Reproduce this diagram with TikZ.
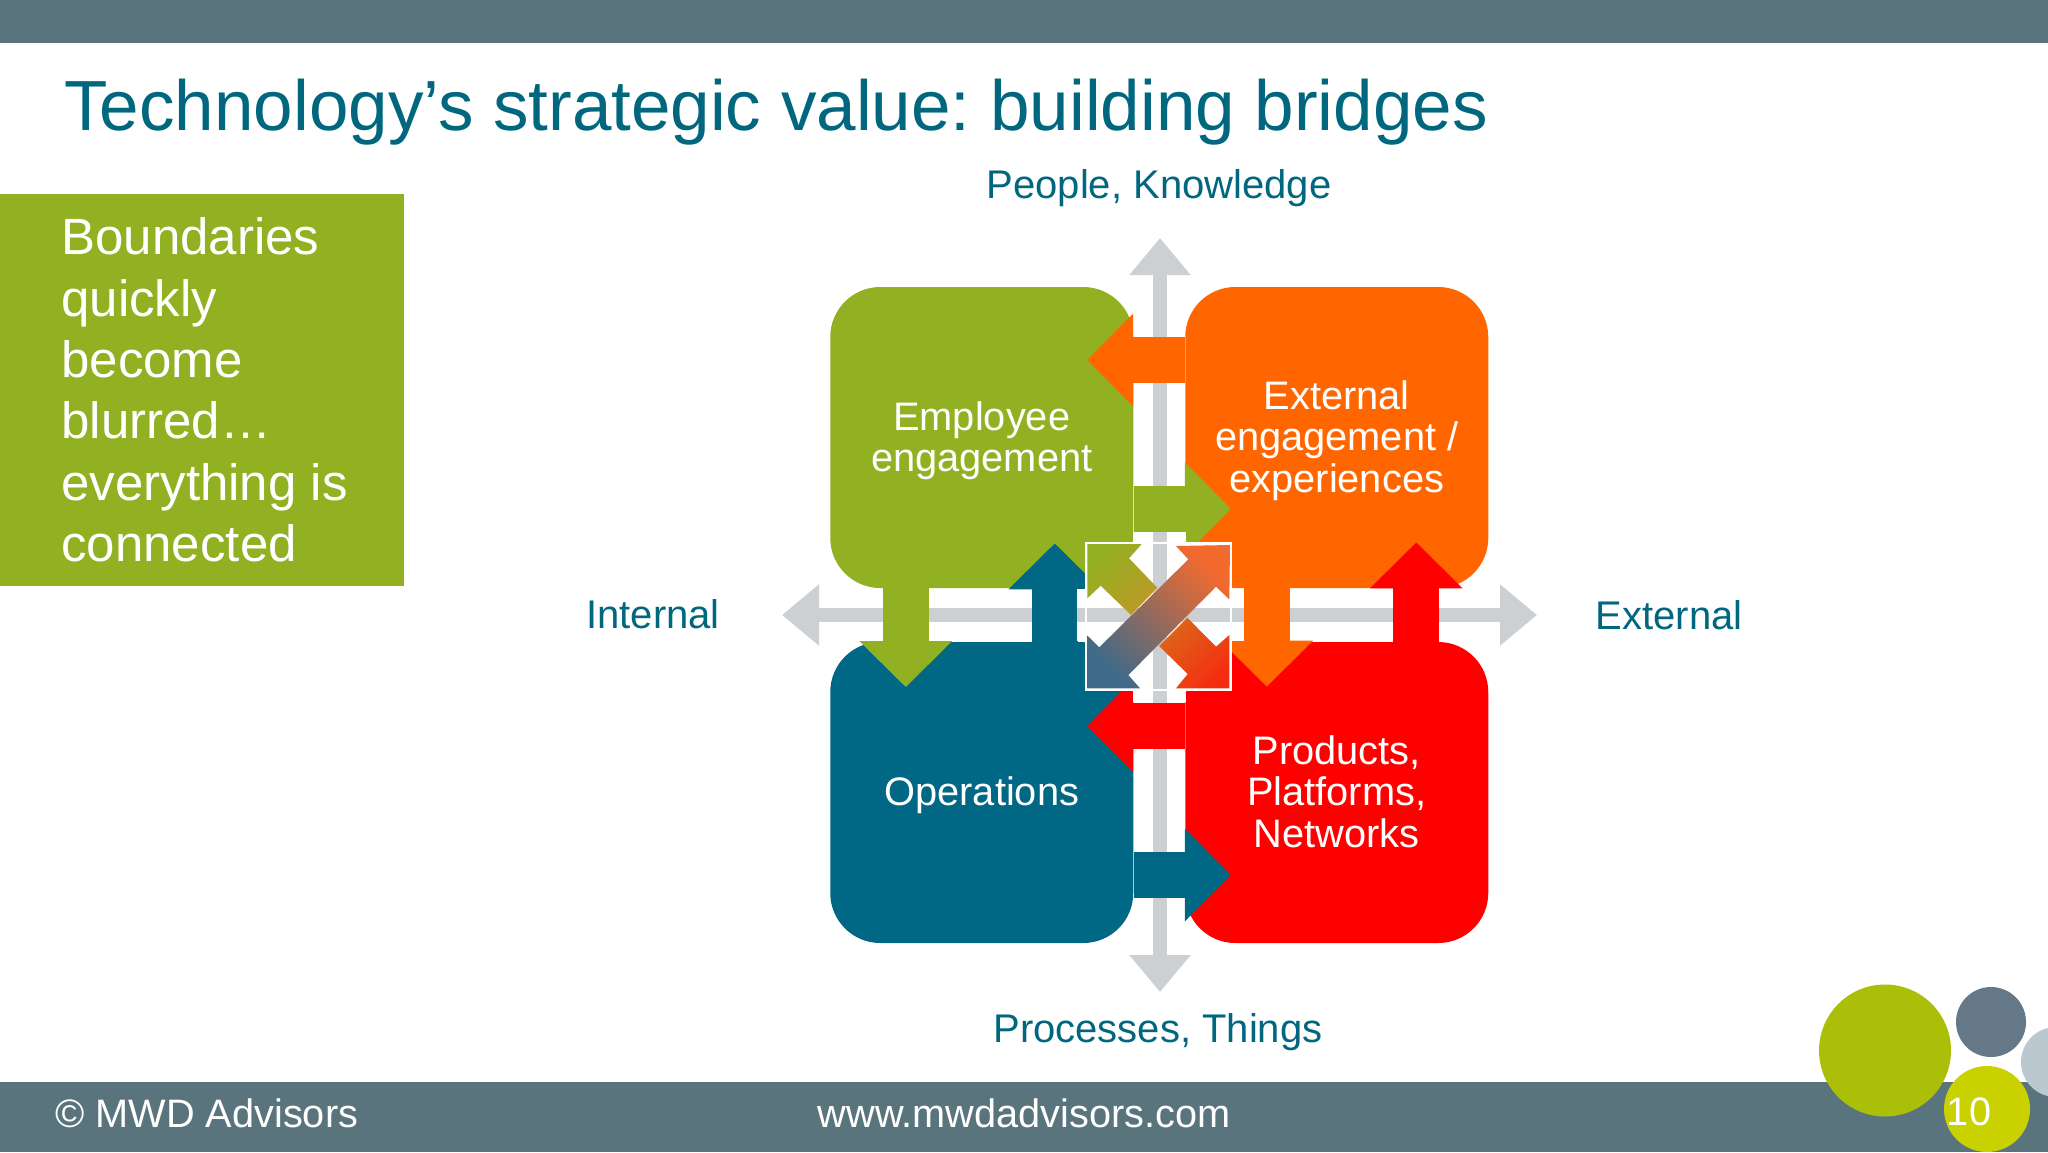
\documentclass[tikz,border=0pt]{standalone}
\usepackage{fontspec}
\setmainfont{Liberation Sans}
\usepackage{xcolor}
\usetikzlibrary{arrows.meta}

\definecolor{bargray}{HTML}{5A747D}
\definecolor{titleteal}{HTML}{00677F}
\definecolor{leafgreen}{HTML}{92B122}
\definecolor{bridgeorange}{HTML}{FF6600}
\definecolor{bridgered}{HTML}{FF0000}
\definecolor{bridgeteal}{HTML}{006885}
\definecolor{axisgray}{HTML}{CDD0D3}
\definecolor{dotlight}{HTML}{BCC8D0}
\definecolor{dotgreen}{HTML}{ACBF08}
\definecolor{dotslate}{HTML}{647887}
\definecolor{dotyellow}{HTML}{C9D200}
\definecolor{iconolive}{HTML}{BC9A26}
\definecolor{iconrust}{HTML}{DC651A}
\definecolor{iconscarlet}{HTML}{F52D10}
\definecolor{icontip}{HTML}{F26A2E}
\definecolor{iconmauve}{HTML}{A56C6C}
\definecolor{iconblue}{HTML}{3F6A88}

\begin{document}
\frenchspacing
\begin{tikzpicture}[
    x=0.5pt, y=-0.5pt,
    node distance=177.5pt,
    quad/.style={rectangle, rounded corners=25pt, minimum width=151.5pt, minimum height=150.5pt, align=center, inner sep=0pt, text depth=1pt, text=white, font=\fontsize{19.9}{20.9}\selectfont},
    axislabel/.style={inner sep=0pt, text=titleteal, font=\fontsize{20}{24}\selectfont},
    footer/.style={inner sep=0pt, text=white, font=\fontsize{19.85}{24}\selectfont},
    axis/.style={{Triangle[length=18.5pt,width=29.5pt]}-{Triangle[length=18.5pt,width=29.5pt]}, draw=axisgray, line width=7.25pt},
    bridge/.style={-{Triangle[length=23pt,width=45pt]}, line width=23pt}
]
    \useasboundingbox (0,0) rectangle (2048,1152);
    % Bars
    \fill[bargray] (0,0) rectangle (2048,43);
    \fill[bargray] (0,1082) rectangle (2048,1152);
    % Title
    \node[anchor=west, inner sep=0pt, text=titleteal, font=\fontsize{35.5}{42}\selectfont] (title) at (64,112) {Technology’s strategic value: building bridges};
    % Left panel
    \fill[leafgreen] (0,194) rectangle (404,586);
    \node[anchor=west, align=left, inner sep=0pt, text=white, font=\fontsize{25.5}{30.7}\selectfont] (boundaries) at (61,390) {Boundaries\\quickly\\become\\blurred…\\everything is\\connected};
    % Axes
    \coordinate (axisW) at (782,615);
    \coordinate (axisE) at (1537,615);
    \coordinate (axisN) at (1160,238);
    \coordinate (axisS) at (1160,992);
    \draw[axis] (axisW) -- (axisE);
    \draw[axis] (axisN) -- (axisS);
    % Axis labels
    \node[axislabel] (people) at (1159,188) {People, Knowledge};
    \node[axislabel] (processes) at (1158,1032) {Processes, Things};
    \node[axislabel] (internal) at (653,614) {Internal};
    \node[axislabel] (outside) at (1669,615) {External};
    % Quadrants
    \node[quad, fill=leafgreen] at (981.75,437.5) (employee) {Employee\\engagement};
    \node[quad, fill=bridgeorange, right of=employee] (external) {External\\engagement /\\experiences};
    \node[quad, fill=bridgeteal, below of=employee] (operations) {Operations};
    \node[quad, fill=bridgered, below of=external] (products) {Products,\\Platforms,\\Networks};
    % Bridges
    \draw[bridge, bridgeorange] ([yshift=38.75pt]external.west) -- ([xshift=-23.25pt,yshift=38.75pt]employee.east);
    \draw[bridge, leafgreen] ([yshift=-35.75pt]employee.east) -- ([xshift=23pt,yshift=-35.75pt]external.west);
    \draw[bridge, bridgered] ([yshift=33.25pt]products.west) -- ([xshift=-23.25pt,yshift=33.25pt]operations.east);
    \draw[bridge, bridgeteal] ([yshift=-41.25pt]operations.east) -- ([xshift=23pt,yshift=-41.25pt]products.west);
    \draw[bridge, leafgreen] ([xshift=-38pt]employee.south) -- ([xshift=-38pt,yshift=-22.75pt]operations.north);
    \draw[bridge, bridgeteal] ([xshift=36.5pt]operations.north) -- ([xshift=36.5pt,yshift=22.5pt]employee.south);
    \draw[bridge, bridgeorange] ([xshift=-35pt]external.south) -- ([xshift=-35pt,yshift=-22.5pt]products.north);
    \draw[bridge, bridgered] ([xshift=39.75pt]products.north) -- ([xshift=39.75pt,yshift=23pt]external.south);
    % Centre cross
    \fill[white] (1077,589) rectangle (1244,641);
    \fill[white] (1133,532) rectangle (1186,702);
    \fill[white] (1086,543) rectangle (1231,690);
    \fill[axisgray] (1077,608) rectangle (1244,622);
    \fill[axisgray] (1153,532) rectangle (1167,702);
    % Centre icon
    \shade[top color=leafgreen, bottom color=iconolive, shading angle=45] (1087.3,544) -- (1141.7,544) -- (1129,558.3) -- (1157.3,587.7) -- (1131,615) -- (1100.7,585.7) -- (1087.3,598.3) -- cycle;
    \shade[top color=iconrust, bottom color=iconscarlet, shading angle=45] (1229.3,688.3) -- (1176,688.3) -- (1187.7,674) -- (1159,646) -- (1187.3,617.7) -- (1216,646.7) -- (1229.3,635) -- cycle;
    \shade[top color=icontip, middle color=iconmauve, bottom color=iconblue, shading angle=-45] (1230,545) -- (1176,546) -- (1188.3,559.3) -- (1099.3,647.3) -- (1086.7,635) -- (1086.7,688.3) -- (1140,688.3) -- (1128.3,675) -- (1216,586.7) -- (1229.3,599.3) -- cycle;
    \draw[white, line width=1pt] (1086,543) rectangle (1231,690);
    % Circles
    \fill[dotlight] (2056,1062) circle[radius=35];
    \fill[dotgreen] (1885,1050.5) circle[radius=66];
    \fill[dotslate] (1991,1022) circle[radius=35];
    \fill[dotyellow] (1987,1109) circle[radius=43];
    % Footer
    \node[footer, anchor=west] (advisors) at (55,1113) {© MWD Advisors};
    \node[footer] (website) at (1024,1113) {www.mwdadvisors.com};
    \node[footer] (pagenumber) at (1969,1112) {10};
\end{tikzpicture}
\end{document}
